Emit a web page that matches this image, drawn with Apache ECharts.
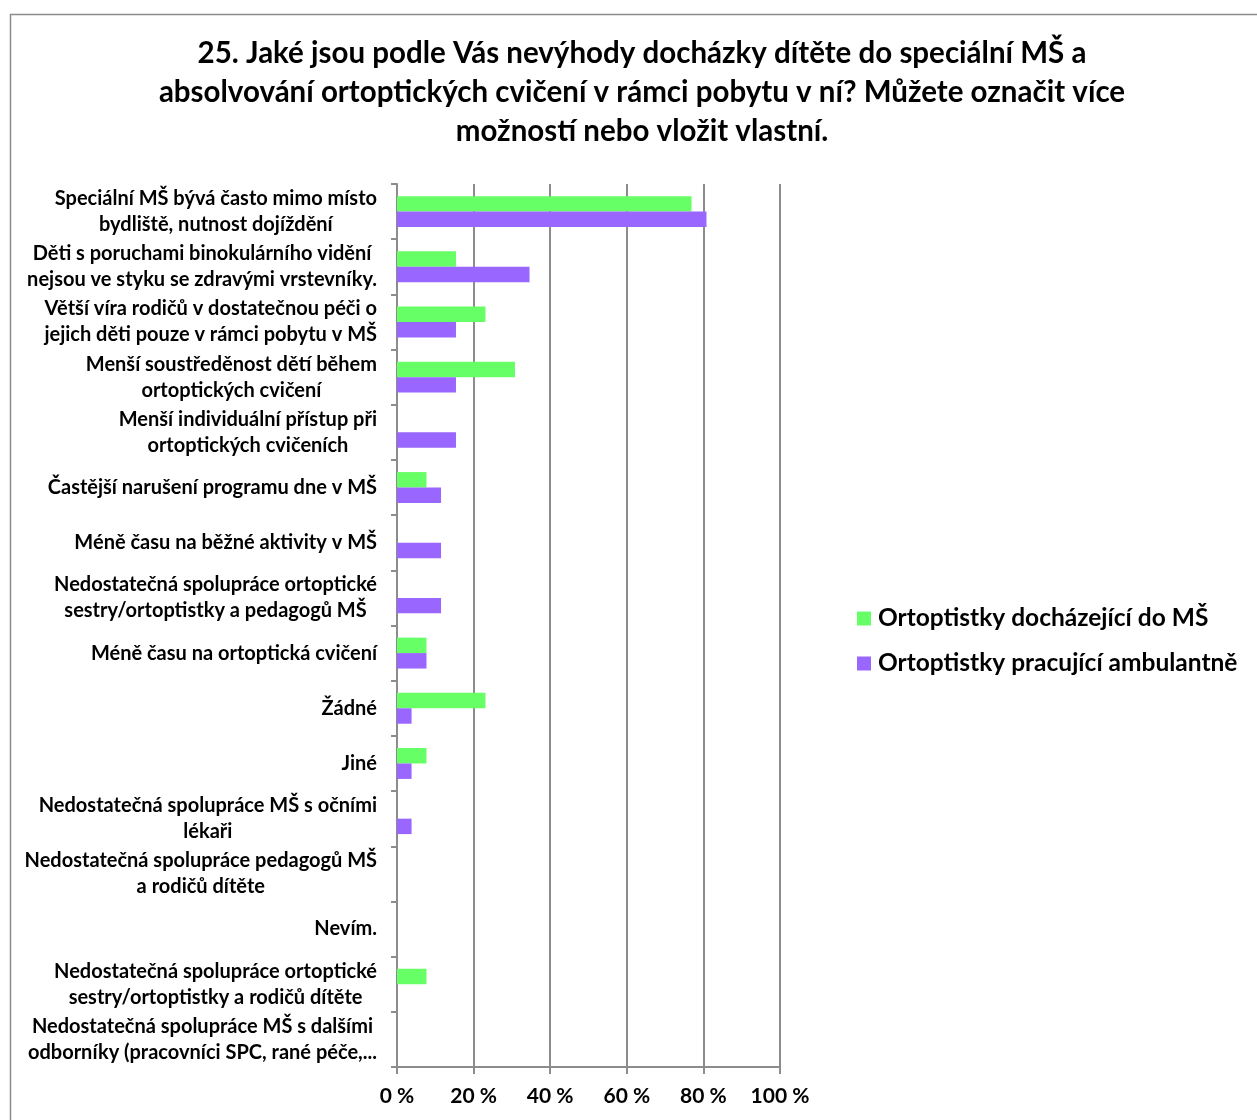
<!DOCTYPE html>
<html>
<head>
<meta charset="utf-8">
<script src="https://cdn.jsdelivr.net/npm/echarts@6/dist/echarts.min.js"></script>
<style>
  html, body { margin: 0; padding: 0; background: #fff; }
  #chart { width: 1257px; height: 1120px; }
</style>
</head>
<body>
<div id="chart"></div>
<script>
// Survey answers, listed top to bottom
const categories = [
  'Speciální MŠ bývá často mimo místo\nbydliště, nutnost dojíždění',
  'Děti s poruchami binokulárního vidění\nnejsou ve styku se zdravými vrstevníky.',
  'Větší víra rodičů v dostatečnou péči o\njejich děti pouze v rámci pobytu v MŠ',
  'Menší soustředěnost dětí během\nortoptických cvičení',
  'Menší individuální přístup při\nortoptických cvičeních',
  'Častější narušení programu dne v MŠ',
  'Méně času na běžné aktivity v MŠ',
  'Nedostatečná spolupráce ortoptické\nsestry/ortoptistky a pedagogů MŠ',
  'Méně času na ortoptická cvičení',
  'Žádné',
  'Jiné',
  'Nedostatečná spolupráce MŠ s očními\nlékaři',
  'Nedostatečná spolupráce pedagogů MŠ\na rodičů dítěte',
  'Nevím.',
  'Nedostatečná spolupráce ortoptické\nsestry/ortoptistky a rodičů dítěte',
  'Nedostatečná spolupráce MŠ s dalšími\nodborníky (pracovníci SPC, rané péče,...'
];

// Share of respondents (%)
const visitingName = 'Ortoptistky docházející do MŠ';
const visiting = [76.9, 15.4, 23.1, 30.8, 0, 7.7, 0, 0, 7.7, 23.1, 7.7, 0, 0, 0, 7.7, 0];

const ambulantName = 'Ortoptistky pracující ambulantně';
const ambulant = [80.8, 34.6, 15.4, 15.4, 15.4, 11.5, 11.5, 11.5, 7.7, 3.8, 3.8, 3.8, 0, 0, 0, 0];

const axisTicks = [0, 20, 40, 60, 80, 100];

const titleText = '25. Jaké jsou podle Vás nevýhody docházky dítěte do speciální MŠ a\n' +
  'absolvování ortoptických cvičení v rámci pobytu v ní? Můžete označit více\n' +
  'možností nebo vložit vlastní.';

const FONT = 'Lato, "Open Sans", sans-serif';
const GRID_GRAY = '#8c8c8c';

const labelStyle = {
  fontFamily: FONT, fontSize: 20, fontWeight: 'bold', color: '#000', lineHeight: 26
};

const chart = echarts.init(document.getElementById('chart'));
chart.setOption({
  backgroundColor: '#ffffff',
  animation: false,
  textStyle: { fontFamily: FONT },
  graphic: [{
    type: 'rect',
    left: 8, top: 12,
    shape: { width: 1400, height: 1300 },
    style: { fill: 'none', stroke: '#8c8c8c', lineWidth: 1.5 },
    silent: true, z: -1
  }],
  title: {
    text: titleText,
    left: 637,
    top: 29,
    textAlign: 'center',
    textStyle: {
      fontFamily: FONT, fontSize: 29.5, fontWeight: 'bold', color: '#000', lineHeight: 39
    }
  },
  legend: {
    orient: 'vertical',
    left: 852,
    top: 601,
    itemWidth: 14,
    itemHeight: 14,
    itemGap: 20,
    icon: 'rect',
    textStyle: { fontFamily: FONT, fontSize: 24.5, fontWeight: 'bold', color: '#000', padding: [0, 0, 0, 2] },
    data: [visitingName, ambulantName]
  },
  grid: { left: 397, right: 477, top: 184, bottom: 53, containLabel: false },
  xAxis: {
    type: 'value',
    min: axisTicks[0],
    max: axisTicks[axisTicks.length - 1],
    interval: axisTicks[1] - axisTicks[0],
    axisLine: { show: true, lineStyle: { color: GRID_GRAY, width: 2 } },
    axisTick: { show: true, length: 7, lineStyle: { color: GRID_GRAY, width: 2 } },
    splitLine: { show: true, lineStyle: { color: GRID_GRAY, width: 2 } },
    axisLabel: {
      margin: 19,
      fontFamily: FONT, fontSize: 21, fontWeight: 'bold', color: '#000',
      formatter: v => v + ' %'
    }
  },
  yAxis: {
    type: 'category',
    inverse: true,
    data: categories,
    axisLine: { show: true, lineStyle: { color: GRID_GRAY, width: 2 } },
    axisTick: { show: true, length: 6, lineStyle: { color: GRID_GRAY, width: 2 } },
    axisLabel: Object.assign({
      margin: 20,
      align: 'right',
      // each wrapped line is centred inside the right-aligned label block
      formatter: v => v.split('\n').map(line => '{c|' + line + '}').join('\n'),
      rich: { c: Object.assign({ align: 'center' }, labelStyle) }
    }, labelStyle)
  },
  series: [
    {
      name: visitingName,
      type: 'bar',
      data: visiting,
      barGap: '0%',
      barCategoryGap: '44%',
      itemStyle: { color: '#66ff66' }
    },
    {
      name: ambulantName,
      type: 'bar',
      data: ambulant,
      barGap: '0%',
      barCategoryGap: '44%',
      itemStyle: { color: '#9966ff' }
    }
  ]
});
</script>
</body>
</html>
